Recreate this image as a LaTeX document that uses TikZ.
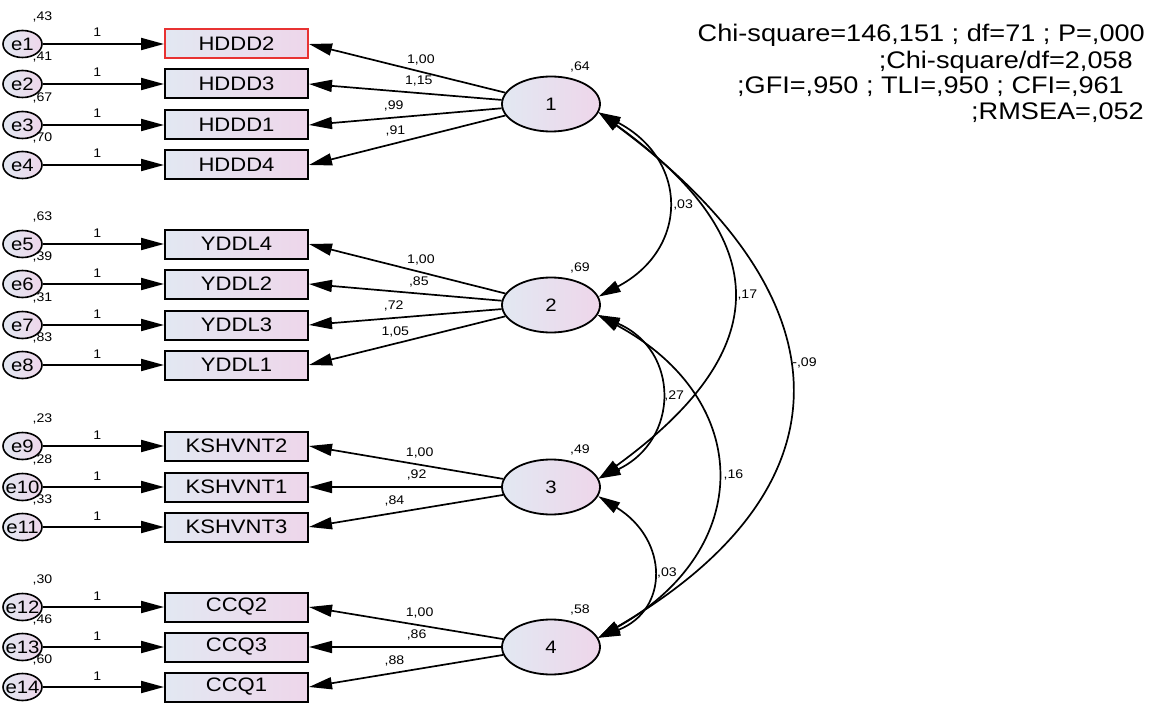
\documentclass[tikz,border=0pt]{standalone}
\usepackage{fontspec}
\setmainfont{Liberation Sans}
\usepackage{graphicx}
\usetikzlibrary{arrows.meta,calc,shapes.geometric}
\definecolor{gl}{RGB}{226,232,242}
\definecolor{gr}{RGB}{238,214,234}
\definecolor{redb}{RGB}{232,50,50}
\newcommand{\sx}[1]{\scalebox{1.13}[1]{#1}}
\begin{document}
\begin{tikzpicture}[x=1pt,y=-1pt,
  every node/.style={inner sep=0pt},
  err/.style={ellipse, draw, line width=1.6pt, minimum width=39pt, minimum height=27pt, left color=gl, right color=gr, font=\fontsize{18}{20}\selectfont},
  obs/.style={rectangle, draw, line width=2pt, minimum width=143pt, minimum height=29pt, left color=gl, right color=gr, font=\fontsize{19.5}{22}\selectfont},
  lat/.style={ellipse, draw, line width=1.8pt, minimum width=98pt, minimum height=55pt, left color=gl, right color=gr, font=\fontsize{18}{20}\selectfont},
  lab/.style={font=\fontsize{12.5}{14}\selectfont, inner sep=1pt},
  stat/.style={font=\fontsize{24}{28}\selectfont, anchor=east},
  arr/.style={line width=1.7pt, -{Triangle[length=23pt,width=12pt]}},
  earr/.style={line width=2pt, -{Triangle[length=23pt,width=12pt]}},
  cov/.style={line width=1.7pt, {Triangle[length=22pt,width=12pt]}-{Triangle[length=22pt,width=12pt]}},
]
\useasboundingbox (0,0) rectangle (1160,706);

% latent variables
\node[lat] (l1) at (551,104) {\sx{1}};
\node[lat] (l2) at (551,305) {\sx{2}};
\node[lat] (l3) at (551,487) {\sx{3}};
\node[lat] (l4) at (551,647) {\sx{4}};
\node[lab] (w1) at ($(l1)+(29,-37)$) {\sx{,64}};
\node[lab] (w2) at ($(l2)+(29,-37)$) {\sx{,69}};
\node[lab] (w3) at ($(l3)+(29,-37)$) {\sx{,49}};
\node[lab] (w4) at ($(l4)+(29,-37)$) {\sx{,58}};

% observed variables
\node[obs, draw=redb] (b1) at (236.5,44) {\sx{HDDD2}};
\node[obs] (b2) at (236.5,84) {\sx{HDDD3}};
\node[obs] (b3) at (236.5,125) {\sx{HDDD1}};
\node[obs] (b4) at (236.5,165) {\sx{HDDD4}};
\node[obs] (b5) at (236.5,244) {\sx{YDDL4}};
\node[obs] (b6) at (236.5,284) {\sx{YDDL2}};
\node[obs] (b7) at (236.5,325) {\sx{YDDL3}};
\node[obs] (b8) at (236.5,365) {\sx{YDDL1}};
\node[obs] (b9) at (236.5,446) {\sx{KSHVNT2}};
\node[obs] (b10) at (236.5,487) {\sx{KSHVNT1}};
\node[obs] (b11) at (236.5,527) {\sx{KSHVNT3}};
\node[obs] (b12) at (236.5,607) {\sx{CCQ2}};
\node[obs] (b13) at (236.5,647) {\sx{CCQ3}};
\node[obs] (b14) at (236.5,687) {\sx{CCQ1}};

% error terms
\node[err] (e1) at (22.5,44) {\makebox[0pt]{\sx{e1}}};
\node[err] (e2) at (22.5,84) {\makebox[0pt]{\sx{e2}}};
\node[err] (e3) at (22.5,125) {\makebox[0pt]{\sx{e3}}};
\node[err] (e4) at (22.5,165) {\makebox[0pt]{\sx{e4}}};
\node[err] (e5) at (22.5,244) {\makebox[0pt]{\sx{e5}}};
\node[err] (e6) at (22.5,284) {\makebox[0pt]{\sx{e6}}};
\node[err] (e7) at (22.5,325) {\makebox[0pt]{\sx{e7}}};
\node[err] (e8) at (22.5,365) {\makebox[0pt]{\sx{e8}}};
\node[err] (e9) at (22.5,446) {\makebox[0pt]{\sx{e9}}};
\node[err] (e10) at (22.5,487) {\makebox[0pt]{\sx{e10}}};
\node[err] (e11) at (22.5,527) {\makebox[0pt]{\sx{e11}}};
\node[err] (e12) at (22.5,607) {\makebox[0pt]{\sx{e12}}};
\node[err] (e13) at (22.5,647) {\makebox[0pt]{\sx{e13}}};
\node[err] (e14) at (22.5,687) {\makebox[0pt]{\sx{e14}}};

\node[lab] (v1) at ($(e1)+(20,-27)$) {\sx{,43}};
\node[lab] (v2) at ($(e2)+(20,-27)$) {\sx{,41}};
\node[lab] (v3) at ($(e3)+(20,-27)$) {\sx{,67}};
\node[lab] (v4) at ($(e4)+(20,-27)$) {\sx{,70}};
\node[lab] (v5) at ($(e5)+(20,-27)$) {\sx{,63}};
\node[lab] (v6) at ($(e6)+(20,-27)$) {\sx{,39}};
\node[lab] (v7) at ($(e7)+(20,-27)$) {\sx{,31}};
\node[lab] (v8) at ($(e8)+(20,-27)$) {\sx{,83}};
\node[lab] (v9) at ($(e9)+(20,-27)$) {\sx{,23}};
\node[lab] (v10) at ($(e10)+(20,-27)$) {\sx{,28}};
\node[lab] (v11) at ($(e11)+(20,-27)$) {\sx{,33}};
\node[lab] (v12) at ($(e12)+(20,-27)$) {\sx{,30}};
\node[lab] (v13) at ($(e13)+(20,-27)$) {\sx{,46}};
\node[lab] (v14) at ($(e14)+(20,-27)$) {\sx{,60}};

% error arrows
\foreach \k in {1,...,14}{
  \draw[earr] (e\k) -- (b\k) node[lab, pos=0.45, above=5pt] {\sx{1}};
}

% loadings
\draw[arr] (l1) -- (b1.east) node[lab, pos=0.43, above=5pt] {\sx{1,00}};
\draw[arr] (l1) -- (b2.east) node[lab, pos=0.43, above=5pt] {\sx{1,15}};
\draw[arr] (l1) -- (b3.east) node[lab, pos=0.56, above=5pt] {\sx{,99}};
\draw[arr] (l1) -- (b4.east) node[lab, pos=0.56, above=5pt] {\sx{,91}};
\draw[arr] (l2) -- (b5.east) node[lab, pos=0.43, above=5pt] {\sx{1,00}};
\draw[arr] (l2) -- (b6.east) node[lab, pos=0.43, above=5pt] {\sx{,85}};
\draw[arr] (l2) -- (b7.east) node[lab, pos=0.56, above=5pt] {\sx{,72}};
\draw[arr] (l2) -- (b8.east) node[lab, pos=0.56, above=5pt] {\sx{1,05}};
\draw[arr] (l3) -- (b9.east) node[lab, pos=0.43, above=5pt] {\sx{1,00}};
\draw[arr] (l3) -- (b10.east) node[lab, pos=0.44, above=5pt] {\sx{,92}};
\draw[arr] (l3) -- (b11.east) node[lab, pos=0.56, above=5pt] {\sx{,84}};
\draw[arr] (l4) -- (b12.east) node[lab, pos=0.43, above=5pt] {\sx{1,00}};
\draw[arr] (l4) -- (b13.east) node[lab, pos=0.44, above=5pt] {\sx{,86}};
\draw[arr] (l4) -- (b14.east) node[lab, pos=0.56, above=5pt] {\sx{,88}};

% covariances
\draw[cov] (l1.-10) .. controls (689,160) and (689,249) .. (l2.10) node[lab, pos=0.5, right=5pt] {\sx{,03}};
\draw[cov] (l1.-10) .. controls (776,240) and (776,350) .. (l3.10) node[lab, pos=0.5, right=4pt] {\sx{,17}};
\draw[cov] (l1.-10) .. controls (853,300) and (853,490) .. (l4.11) node[lab, pos=0.45, right=3pt] {\sx{-,09}};
\draw[cov] (l2.-12) .. controls (680,350) and (680,440) .. (l3.10) node[lab, pos=0.5, right=3pt] {\sx{,27}};
\draw[cov] (l2.-12) .. controls (755,400) and (755,550) .. (l4.11) node[lab, pos=0.5, right=6pt] {\sx{,16}};
\draw[cov] (l3.-11) .. controls (669,540) and (669,610) .. (l4.11) node[lab, pos=0.5, right=4pt] {\sx{,03}};

% fit statistics
\node[stat] (s1) at (1145,35) {\sx{Chi-square=146,151 ; df=71 ; P=,000}};
\node[stat] (s2) at (1133,62) {\sx{;Chi-square/df=2,058}};
\node[stat] (s3) at (1124,87) {\sx{;GFI=,950 ; TLI=,950 ; CFI=,961}};
\node[stat] (s4) at (1144,113) {\sx{;RMSEA=,052}};
\end{tikzpicture}
\end{document}
